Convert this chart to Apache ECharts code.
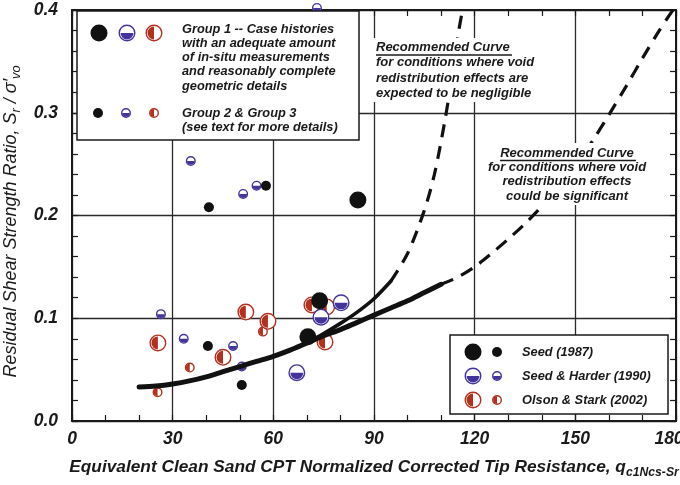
<!DOCTYPE html>
<html><head><meta charset="utf-8">
<script src="https://cdn.jsdelivr.net/npm/echarts@6.0.0/dist/echarts.min.js"></script>
<style>html,body{margin:0;padding:0;background:#fff}#c{width:680px;height:485px}</style>
</head><body><div id="c"></div>
<script>
// ---------- data ----------
const xTickLabels = ['0', '30', '60', '90', '120', '150', '180'];
const yTickLabels = ['0.0', '0.1', '0.2', '0.3', '0.4'];

// Seed (1987)
const seedG1X = [85.2, 73.8, 70.3];
const seedG1Y = [0.215, 0.117, 0.082];
const seedG23X = [40.8, 57.8, 40.5, 50.6];
const seedG23Y = [0.208, 0.229, 0.073, 0.035];
// Seed & Harder (1990)
const harderG1X = [67.0, 74.2, 80.2];
const harderG1Y = [0.047, 0.101, 0.115];
const harderG23X = [73.0, 35.4, 51.0, 55.0, 26.5, 33.3, 48.0, 50.6];
const harderG23Y = [0.402, 0.253, 0.221, 0.229, 0.104, 0.080, 0.073, 0.053];
// Olson & Stark (2002)
const olsonG1X = [25.6, 51.8, 58.4, 45.0, 71.5, 75.9, 75.4];
const olsonG1Y = [0.076, 0.106, 0.097, 0.062, 0.113, 0.111, 0.077];
const olsonG23X = [35.1, 56.9, 25.5];
const olsonG23Y = [0.052, 0.087, 0.028];

// Recommended curves
const lowerSolidX = [20, 25, 30, 35, 40, 45, 50, 55, 60, 65, 70, 75, 80, 85, 90, 95, 100, 105, 110];
const lowerSolidY = [0.033, 0.034, 0.036, 0.039, 0.043, 0.048, 0.053, 0.058, 0.063, 0.069, 0.076, 0.083, 0.089, 0.096, 0.103, 0.110, 0.117, 0.125, 0.133];
const lowerDashX = [110, 115, 120, 125, 130, 135, 140, 145, 150, 155, 160, 165, 170, 175, 179.5];
const lowerDashY = [0.133, 0.140, 0.150, 0.163, 0.177, 0.192, 0.209, 0.228, 0.249, 0.272, 0.298, 0.325, 0.353, 0.380, 0.402];
const upperSolidX = [70, 75, 80, 85, 90, 95];
const upperSolidY = [0.076, 0.085, 0.095, 0.106, 0.119, 0.136];
const upperDashX = [95, 100, 105, 108, 111, 113, 115, 116.5];
const upperDashY = [0.136, 0.163, 0.205, 0.240, 0.290, 0.330, 0.375, 0.402];

// ---------- styling ----------
const FONT = '"Liberation Sans", Arial, Helvetica, sans-serif';
const BLUE = '#43349b', RED = '#b3301d', BLACK = '#111111', INK = '#1a1a1a';
const BIG = 8.5, SMALL = 5;

function marker(kind, cx, cy, r, z) {
  let kids;
  if (kind === 'black') {
    kids = [{ type: 'circle', shape: { cx: cx, cy: cy, r: r }, style: { fill: BLACK } }];
  } else {
    const col = kind === 'blue' ? BLUE : RED;
    const sa = kind === 'blue' ? 0 : Math.PI / 2;
    kids = [
      { type: 'circle', shape: { cx: cx, cy: cy, r: r - 0.7 }, style: { fill: '#fff', stroke: col, lineWidth: 1.4 } },
      { type: 'sector', shape: { cx: cx, cy: cy, r: r * 0.76, r0: 0, startAngle: sa, endAngle: sa + Math.PI, clockwise: true }, style: { fill: col } }
    ];
  }
  if (z !== undefined) kids.forEach(k => { k.z = z; });
  const g = { type: 'group', children: kids };
  if (z !== undefined) g.z = z;
  return g;
}

function pairs(xs, ys) { return xs.map((x, i) => [x, ys[i]]); }

function markerSeries(name, kind, r, xs, ys, z) {
  return {
    type: 'custom', name: name, z: z, clip: false,
    data: pairs(xs, ys),
    encode: { x: 0, y: 1 },
    renderItem: function (params, api) {
      const p = api.coord([api.value(0), api.value(1)]);
      return marker(kind, p[0], p[1], r);
    }
  };
}

function curve(xs, ys, width, dashed) {
  return {
    type: 'line', data: pairs(xs, ys), showSymbol: false, smooth: 0.3, z: 6, silent: true,
    lineStyle: { color: BLACK, width: width, type: dashed ? [13, 9] : 'solid', cap: dashed ? 'butt' : 'round' }
  };
}

const axisLineStyle = { color: INK, width: 2 };
const tickStyle = { color: INK, width: 1.2 };
const labelFont = { fontFamily: FONT, fontStyle: 'italic', fontWeight: 'bold', fontSize: 17.5, color: INK };

function xAxisDef(pos, main) {
  return {
    type: 'value', position: pos, min: 0, max: 180, interval: 30,
    axisLine: { show: true, onZero: false, lineStyle: axisLineStyle },
    axisTick: { show: true, inside: true, length: 6, lineStyle: tickStyle },
    minorTick: { show: true, splitNumber: 3, length: 6, lineStyle: tickStyle },
    axisLabel: main ? Object.assign({ show: true, margin: 9,
      formatter: function (v) { const i = Math.round(v / 30); return i === 6 ? '{r|' + xTickLabels[i] + '}' : xTickLabels[i]; },
      rich: { r: Object.assign({ padding: [0, 14, 0, 0] }, labelFont) } }, labelFont) : { show: false },
    splitLine: { show: main, lineStyle: { color: '#2a2a2a', width: 1.3 } },
    name: main ? '{t|Equivalent Clean Sand CPT Normalized Corrected Tip Resistance, q}{s|c1Ncs-Sr}' : '',
    nameLocation: 'middle', nameGap: 33,
    nameTextStyle: { fontFamily: FONT, fontStyle: 'italic', fontWeight: 'bold', fontSize: 17.3, color: INK,
      rich: {
        t: { fontFamily: FONT, fontStyle: 'italic', fontWeight: 'bold', fontSize: 17.3, color: INK, lineHeight: 22, verticalAlign: 'bottom' },
        s: { fontFamily: FONT, fontStyle: 'italic', fontWeight: 'bold', fontSize: 12.2, color: INK, lineHeight: 13, verticalAlign: 'bottom', padding: [0, 0, -3, 0] }
      } }
  };
}
function yAxisDef(pos, main) {
  return {
    type: 'value', position: pos, min: 0, max: 0.4, interval: 0.1,
    axisLine: { show: true, onZero: false, lineStyle: axisLineStyle },
    axisTick: { show: true, inside: true, length: 6, lineStyle: tickStyle },
    minorTick: { show: true, splitNumber: 5, length: 6, lineStyle: tickStyle },
    axisLabel: main ? Object.assign({ show: true, margin: 14, formatter: function (v) { return yTickLabels[Math.round(v * 10)]; } }, labelFont) : { show: false },
    splitLine: { show: main, lineStyle: { color: '#2a2a2a', width: 1.3 } },
    name: main ? '{t|Residual Shear Strength Ratio, S}{s|r}{t| / σ′}{s|vo}' : '',
    nameLocation: 'middle', nameRotate: 90, nameGap: 31,
    nameTextStyle: { fontFamily: FONT, fontStyle: 'italic', fontWeight: 'normal', fontSize: 18, color: INK, padding: [0, 12, 0, 0],
      rich: {
        t: { fontFamily: FONT, fontStyle: 'italic', fontWeight: 'normal', fontSize: 18, color: INK, lineHeight: 22, verticalAlign: 'bottom' },
        s: { fontFamily: FONT, fontStyle: 'italic', fontWeight: 'normal', fontSize: 12.8, color: INK, lineHeight: 13, verticalAlign: 'bottom', padding: [0, 0, -3, 0] }
      } }
  };
}

function txt(x, y, text, opts) {
  return { type: 'text', x: x, y: y, z: 60,
    style: Object.assign({ text: text, fontFamily: FONT, fontStyle: 'italic', fontWeight: 'bold', fontSize: 12.8, fill: INK, textVerticalAlign: 'middle' }, opts || {}) };
}
function box(x, y, w, h, stroke) {
  return { type: 'rect', z: 55, shape: { x: x, y: y, width: w, height: h },
    style: { fill: '#fff', stroke: stroke ? INK : null, lineWidth: stroke ? 1.5 : 0 } };
}

const graphics = [
  // upper-left group legend
  box(77, 11, 282, 129, true),
  marker('black', 99, 33, BIG, 60), marker('blue', 127, 33, BIG, 60), marker('red', 154, 33, BIG, 60),
  marker('black', 98, 113, SMALL, 60), marker('blue', 126, 113, SMALL, 60), marker('red', 154, 113, SMALL, 60),
  txt(182, 29, 'Group 1 -- Case histories'),
  txt(182, 43.3, 'with an adequate amount'),
  txt(182, 57.6, 'of in-situ measurements'),
  txt(182, 71.9, 'and reasonably complete'),
  txt(182, 86.2, 'geometric details'),
  txt(182, 113, 'Group 2 & Group 3'),
  txt(182, 127.3, '(see text for more details)'),
  // annotation 1
  { type: 'rect', z: 55, shape: { x: 372, y: 38, width: 166, height: 64 }, style: { fill: '#fff' } },
  txt(376, 47, 'Recommended Curve', { fontSize: 13 }),
  { type: 'line', z: 60, shape: { x1: 376, y1: 55, x2: 512, y2: 55 }, style: { stroke: INK, lineWidth: 1.3 } },
  txt(376, 62.5, 'for conditions where void', { fontSize: 13 }),
  txt(376, 78, 'redistribution effects are', { fontSize: 13 }),
  txt(376, 93.3, 'expected to be negligible', { fontSize: 13 }),
  // annotation 2
  { type: 'rect', z: 55, shape: { x: 486, y: 143, width: 164, height: 62 }, style: { fill: '#fff' } },
  txt(567, 153, 'Recommended Curve', { fontSize: 13, textAlign: 'center' }),
  { type: 'line', z: 60, shape: { x1: 500, y1: 160.5, x2: 636, y2: 160.5 }, style: { stroke: INK, lineWidth: 1.3 } },
  txt(567, 167.5, 'for conditions where void', { fontSize: 13, textAlign: 'center' }),
  txt(567, 181.5, 'redistribution effects', { fontSize: 13, textAlign: 'center' }),
  txt(567, 196, 'could be significant', { fontSize: 13, textAlign: 'center' }),
  // lower-right source legend
  box(450, 335, 218, 79, true),
  marker('black', 473, 352, BIG, 60), marker('black', 497, 352, SMALL, 60),
  marker('blue', 473, 376, BIG, 60), marker('blue', 497, 376, SMALL, 60),
  marker('red', 473, 400, BIG, 60), marker('red', 497, 400, SMALL, 60),
  txt(522, 352, 'Seed (1987)'),
  txt(522, 376, 'Seed & Harder (1990)'),
  txt(522, 400, 'Olson & Stark (2002)')
];

const chart = echarts.init(document.getElementById('c'), null, { renderer: 'canvas' });
chart.setOption({
  animation: false,
  backgroundColor: '#fff',
  grid: { left: 72, top: 10, right: 4, bottom: 64, containLabel: false, outerBoundsMode: 'none' },
  xAxis: [xAxisDef('bottom', true), xAxisDef('top', false)],
  yAxis: [yAxisDef('left', true), yAxisDef('right', false)],
  series: [
    markerSeries('Olson & Stark (2002) G2/3', 'red', SMALL, olsonG23X, olsonG23Y, 2),
    markerSeries('Olson & Stark (2002) G1', 'red', BIG, olsonG1X, olsonG1Y, 2),
    markerSeries('Seed & Harder (1990) G2/3', 'blue', SMALL, harderG23X, harderG23Y, 3),
    markerSeries('Seed (1987) G1', 'black', BIG, seedG1X, seedG1Y, 3),
    markerSeries('Seed & Harder (1990) G1', 'blue', BIG, harderG1X, harderG1Y, 4),
    markerSeries('Seed (1987) G2/3', 'black', SMALL, seedG23X, seedG23Y, 4),
    curve(lowerSolidX, lowerSolidY, 5, false),
    curve(lowerDashX, lowerDashY, 3.2, true),
    curve(upperSolidX, upperSolidY, 3.6, false),
    curve(upperDashX, upperDashY, 3.2, true)
  ],
  graphic: graphics
});
</script></body></html>
